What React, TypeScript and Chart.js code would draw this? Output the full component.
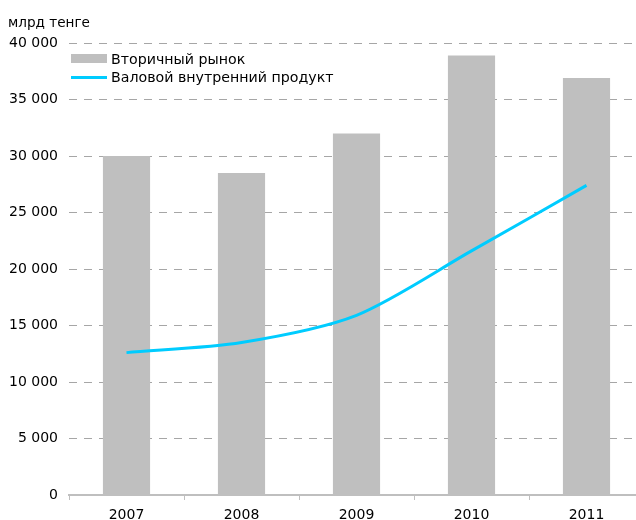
import React, { useEffect, useRef } from 'react';
import { Chart, registerables } from 'chart.js';

Chart.register(...registerables);

const categories = ['2007', '2008', '2009', '2010', '2011'];
const secondaryMarket = [30000, 28500, 32000, 38900, 36900];
const gdp = [12600, 13500, 15900, 21600, 27400];
const seriesNames = ['Вторичный рынок', 'Валовой внутренний продукт'];
const unitTitle = 'млрд тенге';
const yMin = 0;
const yMax = 40000;
const yStep = 5000;

const barColor = '#bfbfbf';
const lineColor = '#00ccff';
const FONT = '"DejaVu Sans", Verdana, sans-serif';

const formatThousands = (v: number) =>
  String(v).replace(/\B(?=(\d{3})+(?!\d))/g, ' ');

const overlayPlugin = {
  id: 'overlay',
  afterDraw(chart: any) {
    const { ctx, chartArea } = chart;
    const ds = chart.data.datasets;
    ctx.save();
    ctx.textBaseline = 'alphabetic';
    ctx.textAlign = 'left';
    ctx.fillStyle = '#000';
    ctx.font = `13.6px ${FONT}`;
    ctx.fillText(unitTitle, 8, 27);

    ctx.font = `14.2px ${FONT}`;
    const bx = chartArea.left + 2;
    ctx.fillStyle = ds[0].backgroundColor;
    ctx.fillRect(bx, chartArea.top + 11, 36, 9);
    ctx.fillStyle = '#000';
    ctx.fillText(ds[0].label, bx + 40, chartArea.top + 21);

    ctx.strokeStyle = ds[1].borderColor;
    ctx.lineWidth = 3;
    ctx.beginPath();
    ctx.moveTo(bx, chartArea.top + 34.5);
    ctx.lineTo(bx + 36, chartArea.top + 34.5);
    ctx.stroke();
    ctx.fillStyle = '#000';
    ctx.fillText(ds[1].label, bx + 40, chartArea.top + 39);
    ctx.restore();
  },
};

export default function App() {
  const ref = useRef<HTMLCanvasElement | null>(null);

  useEffect(() => {
    if (!ref.current) return;
    const chart = new Chart(ref.current, {
      type: 'bar',
      data: {
        labels: categories,
        datasets: [
          {
            type: 'bar',
            label: seriesNames[0],
            data: secondaryMarket,
            backgroundColor: barColor,
            borderWidth: 0,
            categoryPercentage: 1,
            barPercentage: 0.41,
            order: 1,
          },
          {
            type: 'line',
            label: seriesNames[1],
            data: gdp,
            borderColor: lineColor,
            backgroundColor: lineColor,
            borderWidth: 3,
            tension: 0.28,
            pointRadius: 0,
            fill: false,
            order: 0,
          } as any,
        ],
      },
      options: {
        responsive: false,
        animation: false,
        devicePixelRatio: 1,
        layout: { padding: { top: 43, left: 0, right: 0, bottom: 0 } },
        plugins: {
          legend: { display: false },
          tooltip: { enabled: false },
          title: { display: false },
        },
        scales: {
          x: {
            grid: {
              display: true,
              drawOnChartArea: false,
              drawTicks: true,
              tickLength: 5,
              color: '#bfbfbf',
              offset: true,
            },
            border: { display: true, color: '#bfbfbf', width: 2 },
            ticks: {
              color: '#000',
              font: { family: FONT, size: 14 },
              padding: 7,
            },
            afterFit: (s: any) => {
              s.height = 25;
            },
          },
          y: {
            min: yMin,
            max: yMax,
            ticks: {
              stepSize: yStep,
              color: '#000',
              font: { family: FONT, size: 14 },
              padding: 11,
              callback: (v: any) => formatThousands(Number(v)),
            },
            grid: { color: '#a6a6a6', drawTicks: false, lineWidth: 1 },
            border: { display: false, dash: [8, 7] },
            afterFit: (s: any) => {
              s.width = 69;
            },
          },
        },
      },
      plugins: [overlayPlugin],
    });
    return () => chart.destroy();
  }, []);

  return (
    <div
      style={{
        position: 'fixed',
        left: 0,
        top: 0,
        width: 636,
        height: 520,
        overflow: 'hidden',
        background: '#fff',
      }}
    >
      <canvas ref={ref} width={644} height={520} style={{ width: 644, height: 520, display: 'block' }} />
    </div>
  );
}
